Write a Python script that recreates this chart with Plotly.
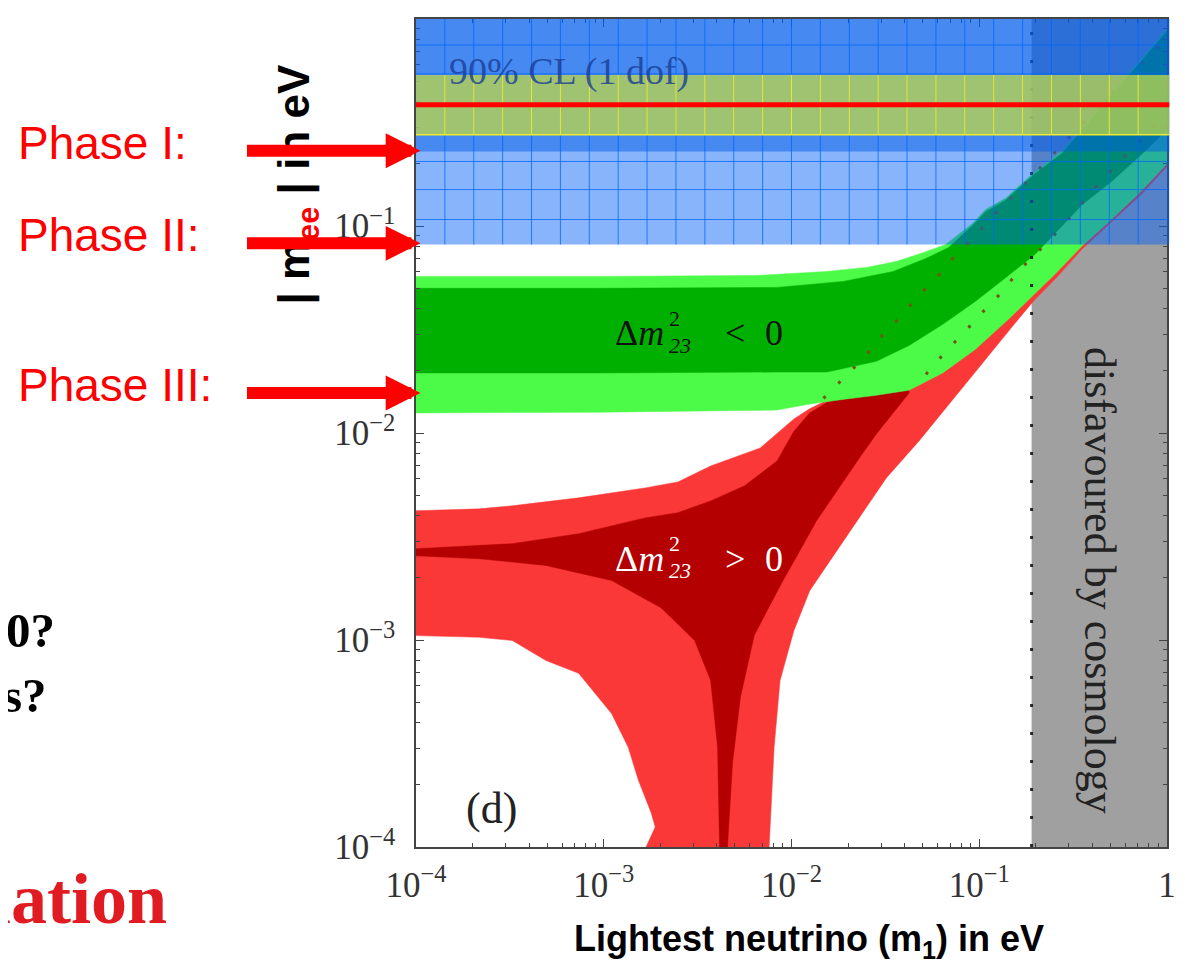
import numpy as np
import plotly.graph_objects as go

SERIF = "Liberation Serif, Times New Roman, serif"
SANS = "Liberation Sans, Arial, sans-serif"

# ---------------- axis ticks ----------------
tick_vals = [1e-4, 1e-3, 1e-2, 1e-1, 1]
tick_text = ["10<sup>−4</sup>", "10<sup>−3</sup>", "10<sup>−2</sup>", "10<sup>−1</sup>", "1"]

# ---------------- cosmology bound (eV) ----------------
cosmo_m1 = [0.19, 1.0]
cosmo_mee = [1e-4, 1.0]

# ---------------- inverted hierarchy band (Δm²23 < 0) ----------------
ih_out_up_m1 = [1e-4, 9.38e-4, 6.57e-3, 1.54e-2, 2.51e-2, 3.61e-2, 4.89e-2, 6.63e-2, 9.21e-2, 0.108, 0.138, 0.198, 0.275, 0.411, 0.669, 1.0]
ih_out_up_mee = [0.0571, 0.0571, 0.0577, 0.0603, 0.0631, 0.0674, 0.0737, 0.0814, 0.1028, 0.120, 0.136, 0.183, 0.229, 0.348, 0.587, 0.895]
ih_out_lo_m1 = [1e-4, 9.38e-4, 8.38e-3, 1.25e-2, 1.96e-2, 2.83e-2, 4.23e-2, 6.39e-2, 9.55e-2, 0.143, 0.198, 0.253, 0.351, 0.506, 0.729, 1.0]
ih_out_lo_mee = [0.0125, 0.0126, 0.0129, 0.0138, 0.0146, 0.0152, 0.0161, 0.0195, 0.0254, 0.0354, 0.0473, 0.0584, 0.0796, 0.1075, 0.147, 0.200]
ih_in_up_m1 = [1e-4, 9.38e-4, 8.38e-3, 1.89e-2, 3.48e-2, 5.20e-2, 6.88e-2, 9.21e-2, 0.108, 0.138, 0.198, 0.275, 0.411, 0.669, 1.0]
ih_in_up_mee = [0.0500, 0.0500, 0.0505, 0.0540, 0.0603, 0.0697, 0.0788, 0.1006, 0.117, 0.133, 0.179, 0.224, 0.341, 0.574, 0.875]
ih_in_lo_m1 = [1e-4, 9.38e-4, 8.38e-3, 1.54e-2, 2.83e-2, 4.23e-2, 6.39e-2, 9.55e-2, 0.143, 0.198, 0.244, 0.351, 0.506, 0.729, 1.0]
ih_in_lo_mee = [0.0195, 0.0195, 0.0197, 0.0197, 0.0222, 0.0265, 0.0335, 0.0433, 0.0577, 0.0729, 0.0890, 0.126, 0.164, 0.221, 0.292]

# ---------------- normal hierarchy band (Δm²23 > 0) ----------------
nh_out_top_m1 = [1e-4, 2.18e-4, 3.26e-4, 7.35e-4, 1.66e-3, 2.48e-3, 3.71e-3, 6.82e-3, 1.03e-2, 1.25e-2, 1.96e-2, 4.23e-2, 9.55e-2, 0.198, 0.351, 0.729, 1.0]
nh_out_top_mee = [0.00421, 0.00430, 0.00445, 0.00486, 0.00543, 0.00580, 0.00693, 0.00847, 0.0117, 0.0131, 0.0160, 0.0185, 0.029, 0.054, 0.090, 0.170, 0.230]
nh_out_right_m1 = [1.0, 0.729, 0.506, 0.351, 0.259, 0.198, 0.155, 0.117, 8.15e-2, 4.78e-2, 3.20e-2, 2.30e-2, 1.54e-2, 1.25e-2, 1.03e-2, 8.69e-3, 8.08e-3, 7.60e-3]
nh_out_right_mee = [0.194, 0.142, 0.104, 0.0770, 0.0565, 0.0442, 0.0339, 0.0248, 0.0165, 0.00915, 0.00607, 0.00389, 0.00229, 0.00173, 0.00111, 0.000638, 0.000303, 1e-4]
nh_out_left_m1 = [1.68e-3, 1.88e-3, 1.79e-3, 1.53e-3, 1.35e-3, 1.10e-3, 7.35e-4, 4.92e-4, 3.26e-4, 2.18e-4, 1e-4]
nh_out_left_mee = [1e-4, 1.25e-4, 1.46e-4, 2.10e-4, 3.03e-4, 4.42e-4, 6.90e-4, 7.96e-4, 9.94e-4, 1.03e-3, 1.05e-3]

nh_in_top_m1 = [1e-4, 3.26e-4, 7.35e-4, 1.66e-3, 2.48e-3, 3.71e-3, 5.61e-3, 8.38e-3, 1.03e-2, 1.25e-2, 1.96e-2, 4.23e-2]
nh_in_top_mee = [0.00276, 0.00292, 0.00326, 0.00389, 0.00412, 0.00470, 0.00555, 0.00733, 0.0102, 0.0125, 0.0160, 0.0170]
nh_in_right_m1 = [4.23e-2, 2.83e-2, 2.30e-2, 1.74e-2, 1.36e-2, 1.07e-2, 9.13e-3, 7.42e-3, 6.33e-3, 5.34e-3, 4.85e-3, 4.56e-3]
nh_in_right_mee = [0.0156, 0.00989, 0.00758, 0.00525, 0.00377, 0.00255, 0.00198, 0.00139, 0.00105, 0.000528, 0.000254, 1e-4]
nh_in_left_m1 = [4.14e-3, 4.04e-3, 3.71e-3, 3.05e-3, 2.02e-3, 1.10e-3, 4.92e-4, 2.18e-4, 1e-4]
nh_in_left_mee = [1e-4, 0.000303, 0.000638, 0.000994, 0.00143, 0.00194, 0.00229, 0.00247, 0.00255]

# ---------------- dotted contours ----------------
dot1_m1 = [1.48e-2, 1.89e-2, 2.42e-2, 2.94e-2, 3.74e-2, 4.60e-2, 5.87e-2, 7.22e-2, 9.21e-2, 0.122, 0.175, 0.286, 0.465, 0.756, 1.0]
dot1_mee = [0.0147, 0.0184, 0.0230, 0.0287, 0.0358, 0.0447, 0.0558, 0.0697, 0.0871, 0.115, 0.160, 0.255, 0.398, 0.621, 0.810]
dot2_m1 = [5.20e-2, 6.63e-2, 8.15e-2, 0.104, 0.133, 0.161, 0.206, 0.262, 0.323, 0.397, 0.482, 0.669, 1.0]
dot2_mee = [0.0192, 0.0248, 0.0300, 0.0383, 0.0483, 0.0603, 0.0753, 0.0941, 0.117, 0.147, 0.177, 0.242, 0.356]

# ---------------- experiment overlay (eV) ----------------
overlay_lo, overlay_mid, overlay_top = 0.0814, 0.229, 1.045
band_lo, band_hi = 0.276, 0.537
limit_line = 0.385
overlay_grid_y = [0.749, 0.543, 0.205, 0.150, 0.1075]
phase_labels = ["Phase I:", "Phase II:", "Phase III:"]
phase_sens = [0.231, 0.0825, 0.0156]

C_GRAY = "#a0a0a0"
C_NH_OUT = "#fa3838"
C_NH_IN = "#b40000"
C_IH_OUT = "#4cfa48"
C_IH_IN = "#00b000"

fig = go.Figure()


def poly(xs, ys, color):
    fig.add_trace(go.Scatter(x=xs, y=ys, fill="toself", fillcolor=color, mode="lines",
                             line=dict(width=0.5, color=color), hoverinfo="skip", showlegend=False))


poly([cosmo_m1[0], cosmo_m1[1], cosmo_m1[1], cosmo_m1[0]],
     [cosmo_mee[0], cosmo_mee[0], cosmo_mee[1], cosmo_mee[1]], C_GRAY)
poly(nh_out_top_m1 + nh_out_right_m1 + nh_out_left_m1,
     nh_out_top_mee + nh_out_right_mee + nh_out_left_mee, C_NH_OUT)
poly(nh_in_top_m1 + nh_in_right_m1 + nh_in_left_m1,
     nh_in_top_mee + nh_in_right_mee + nh_in_left_mee, C_NH_IN)
poly(ih_out_up_m1 + ih_out_lo_m1[::-1], ih_out_up_mee + ih_out_lo_mee[::-1], C_IH_OUT)
poly(ih_in_up_m1 + ih_in_lo_m1[::-1], ih_in_up_mee + ih_in_lo_mee[::-1], C_IH_IN)

for xs, ys in [(dot1_m1, dot1_mee), (dot2_m1, dot2_mee)]:
    fig.add_trace(go.Scatter(x=xs, y=ys, mode="lines", line=dict(color="rgb(115,85,10)", width=3, dash="3px,18px"),
                             hoverinfo="skip", showlegend=False))
fig.add_trace(go.Scatter(x=[cosmo_m1[0], cosmo_m1[0]], y=cosmo_mee, mode="lines",
                         line=dict(color="rgb(40,40,40)", width=3, dash="3px,25px"),
                         hoverinfo="skip", showlegend=False))

# ---------------- overlay shapes ----------------
fig.add_shape(type="rect", xref="paper", yref="y", x0=0, x1=1.003, y0=overlay_lo, y1=overlay_top,
              fillcolor="rgba(0,96,245,0.47)", line_width=0, layer="above")
fig.add_shape(type="rect", xref="paper", yref="y", x0=0, x1=1.003, y0=overlay_mid, y1=overlay_top,
              fillcolor="rgba(0,90,230,0.48)", line_width=0, layer="above")
n_cols = 26
for k in range(1, n_cols):
    fig.add_shape(type="line", xref="paper", yref="y", x0=k / n_cols, x1=k / n_cols, y0=overlay_lo, y1=overlay_top,
                  line=dict(color="rgba(0,100,255,0.75)", width=1), layer="above")
for yv in overlay_grid_y:
    fig.add_shape(type="line", xref="paper", yref="y", x0=0, x1=1.003, y0=yv, y1=yv,
                  line=dict(color="rgba(0,100,255,0.75)", width=1), layer="above")
fig.add_shape(type="rect", xref="paper", yref="y", x0=0, x1=1.003, y0=band_lo, y1=band_hi,
              fillcolor="rgba(190,215,70,0.75)", line_width=0, layer="above")
for k in range(1, n_cols):
    fig.add_shape(type="line", xref="paper", yref="y", x0=k / n_cols, x1=k / n_cols, y0=band_lo, y1=band_hi,
                  line=dict(color="rgba(245,240,40,0.85)", width=1), layer="above")
fig.add_shape(type="line", xref="paper", yref="y", x0=0, x1=1.003, y0=band_lo, y1=band_lo,
              line=dict(color="rgba(245,240,40,0.95)", width=1.5), layer="above")
fig.add_shape(type="line", xref="paper", yref="y", x0=0, x1=1.003, y0=limit_line, y1=limit_line,
              line=dict(color="#ff0000", width=5), layer="above")

# ---------------- axes ----------------
axis_common = dict(type="log", range=[-4, 0], tickmode="array", tickvals=tick_vals, ticktext=tick_text,
                   ticks="inside", ticklen=8, tickcolor="#444", showline=True, linecolor="#444", linewidth=1.5,
                   mirror="ticks", showgrid=False, zeroline=False,
                   tickfont=dict(family=SERIF, size=35, color="#333"),
                   minor=dict(ticks="inside", ticklen=4, tickcolor="#444", dtick="D1", showgrid=False))
fig.update_xaxes(**axis_common, ticklabelstandoff=6)
fig.update_yaxes(**axis_common, ticklabelstandoff=12)

# ---------------- annotations ----------------
def ann(**kw):
    base = dict(showarrow=False, xanchor="center", yanchor="middle")
    base.update(kw)
    fig.add_annotation(**base)


def dm_label(m1, mee, sign, color):
    lx, ly = np.log10(m1), np.log10(mee)
    f = dict(family=SERIF, color=color)
    ann(x=lx, y=ly, text="Δ<i>m</i>", xanchor="right", xshift=-30, font=dict(size=36, **f))
    ann(x=lx, y=ly, text="2", xanchor="left", xshift=-29, yshift=15, font=dict(size=22, **f))
    ann(x=lx, y=ly, text="<i>23</i>", xanchor="left", xshift=-29, yshift=-12, font=dict(size=22, **f))
    ann(x=lx, y=ly, text=sign, xshift=39, font=dict(size=36, **f))
    ann(x=lx, y=ly, text="0", xshift=78, font=dict(size=36, **f))


dm_label(3.09e-3, 0.0303, "&lt;", "#111")
dm_label(3.09e-3, 2.47e-3, "&gt;", "#ffffff")

ann(x=np.log10(2.52e-4), y=np.log10(1.54e-4), text="(d)", font=dict(family=SERIF, size=44, color="#222"))
ann(x=np.log10(0.437), y=np.log10(1.94e-3), text="disfavoured by cosmology", textangle=90,
    font=dict(family=SERIF, size=44, color="#222"))
ann(x=np.log10(1.46e-4), y=np.log10(0.555), text="90% CL (1 dof)", xanchor="left",
    font=dict(family=SERIF, size=38, color="rgba(25,60,150,0.8)"))

# axis titles
ann(xref="paper", yref="paper", x=-0.1585, y=0.80, textangle=-90,
    text="<b>| m<sub><span style='color:#ff0000'>ee</span></sub> | in eV</b>",
    font=dict(family=SANS, size=44, color="#000"))
ann(xref="paper", yref="paper", x=0.523, y=-0.1133, borderpad=0,
    text="<b>Lightest neutrino (m<sub>1</sub>) in eV</b>", font=dict(family=SANS, size=36, color="#000"))

# phase arrows and labels
for lab, val in zip(phase_labels, phase_sens):
    fig.add_annotation(x=0.006, xref="paper", y=np.log10(val), yref="y", text="", showarrow=True,
                       ax=-175, ay=0, axref="pixel", ayref="pixel", arrowhead=2, arrowsize=0.58,
                       arrowwidth=12, arrowcolor="#ff0000")
    ann(xref="paper", yref="y", x=-0.5323, y=np.log10(val), yshift=8, xanchor="left", text=lab,
        font=dict(family=SANS, size=46, color="#ff0000"))

# slide fragments on the left (cut off at the page edge as in the source slide)
ann(xref="paper", yref="paper", x=-0.4795, y=0.2614, xanchor="right", borderpad=0, text="<b>0?</b>",
    font=dict(family=SERIF, size=49, color="#000"))
ann(xref="paper", yref="paper", x=-0.490, y=0.183, xanchor="right", borderpad=0, text="<b>s?</b>",
    font=dict(family=SERIF, size=49, color="#000"))
ann(xref="paper", yref="paper", x=-0.3289, y=-0.0627, xanchor="right", text="<b>lation</b>",
    font=dict(family=SERIF, size=72, color="#e01b22"))

# page body adds an 8px offset; size the figure so the plot area lands at x 416-1173, y 17-847
fig.update_layout(width=1177, height=955, margin=dict(l=408, r=12, t=9, b=116, pad=0),
                  paper_bgcolor="white", plot_bgcolor="white", showlegend=False)

fig.write_html("out.html")
